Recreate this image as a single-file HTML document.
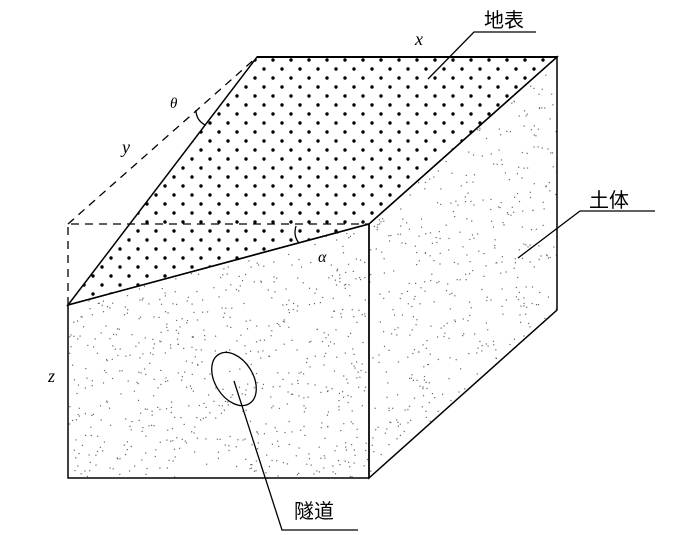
<!DOCTYPE html>
<html><head><meta charset="utf-8"><style>
html,body{margin:0;padding:0;background:#fff;width:700px;height:535px;overflow:hidden}
svg{display:block}
text{font-family:"Liberation Serif",serif;font-style:italic}
.cn{font-family:"Liberation Sans","Noto Sans CJK SC",sans-serif;font-style:normal}
</style></head><body>
<svg id="s" width="700" height="535" viewBox="0 0 700 535" xmlns="http://www.w3.org/2000/svg">
<defs>
<pattern id="dots" x="3" y="60" width="18" height="18" patternUnits="userSpaceOnUse">
<circle cx="0" cy="0" r="1.7" fill="#000"/><circle cx="18" cy="0" r="1.7" fill="#000"/>
<circle cx="0" cy="18" r="1.7" fill="#000"/><circle cx="18" cy="18" r="1.7" fill="#000"/>
<circle cx="9" cy="9" r="1.7" fill="#000"/>
</pattern>
<clipPath id="front"><polygon points="68,305 369,224 369,478 68,478"/></clipPath>
<clipPath id="right"><polygon points="369,224 557,57 557,310 369,478"/></clipPath>
</defs>
<polygon points="257,57 557,57 369,224 68,305" fill="url(#dots)"/>
<g id="sp1" clip-path="url(#front)" fill="#666"></g>
<g id="sp2" clip-path="url(#right)" fill="#666"></g>
<g stroke="#000" fill="none" stroke-width="1.3">
<path d="M68,305 L68,224 L369,224 M68,224 L257,57" stroke-dasharray="8,6"/>
<polygon points="257,57 557,57 369,224 68,305" stroke-width="1.5"/>
<polygon points="68,305 369,224 369,478 68,478" stroke-width="1.5"/>
<polygon points="369,224 557,57 557,310 369,478" stroke-width="1.5"/>
<path d="M257,57 L557,57" stroke-width="2"/>
<ellipse cx="234" cy="379" rx="19" ry="29" transform="rotate(-32 234 379)"/>
<path d="M234,381 L282,530 L358,530"/>
<path d="M428,79 L474,32 L536,32"/>
<path d="M518,258 L580,211 L655,211"/>
<path d="M296,226 Q293,236 299,243"/>
<path d="M196,110 Q196,120 205,125"/>
</g>
<text x="415" y="45" font-size="18">x</text>
<text x="170" y="108" font-size="15">θ</text>
<text x="122" y="153" font-size="18">y</text>
<text x="318" y="262" font-size="16">α</text>
<text x="48" y="382" font-size="18">z</text>
<text class="cn" x="484" y="27" font-size="20">地表</text>
<text class="cn" x="589" y="207" font-size="20">土体</text>
<text class="cn" x="294" y="518" font-size="20">隧道</text>
</svg>
<script>
var seed=12345;function r(){seed=(seed*16807)%2147483647;return seed/2147483647;}
var ns="http://www.w3.org/2000/svg";
function fill(id,x0,y0,w,h,n){var g=document.getElementById(id);
for(var i=0;i<n;i++){var c=document.createElementNS(ns,"rect");
c.setAttribute("x",(x0+r()*w).toFixed(1));c.setAttribute("y",(y0+r()*h).toFixed(1));
c.setAttribute("width","1.2");c.setAttribute("height","1.2");g.appendChild(c);}}
fill("sp1",68,224,301,254,800);
fill("sp2",369,57,188,421,700);
</script>
</body></html>
